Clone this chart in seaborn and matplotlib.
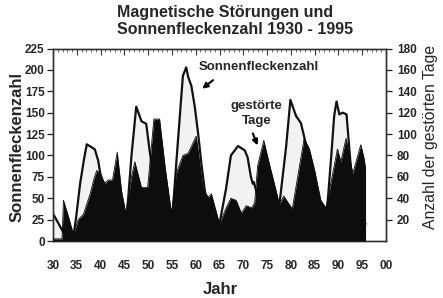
import matplotlib
matplotlib.use("Agg")
import matplotlib.pyplot as plt
import seaborn as sns
import pandas as pd
import numpy as np

# ---- data ----
sun_year = [1930.0, 1930.6, 1931.5, 1932.4, 1933.4, 1934.3, 1934.8, 1935.7, 1936.5, 1937.1,
            1938.0, 1938.8, 1939.5, 1939.9, 1940.8, 1941.8, 1942.8, 1943.8, 1944.6, 1945.6,
            1946.5, 1947.5, 1948.6, 1949.6, 1950.3, 1951.0, 1952.0, 1953.0, 1954.2, 1955.2,
            1955.9, 1957.3, 1958.0, 1958.4, 1959.1, 1959.8, 1960.5, 1961.2, 1962.0, 1963.0,
            1964.0, 1965.0, 1966.4, 1967.4, 1968.9, 1970.3, 1970.9, 1971.6, 1972.0, 1972.2,
            1972.7, 1973.5, 1974.5, 1975.5, 1976.5, 1977.6, 1979.0, 1979.9, 1981.1, 1982.1,
            1982.8, 1983.8, 1984.8, 1985.8, 1986.7, 1987.7, 1988.5, 1989.1, 1989.6, 1990.2,
            1990.9, 1991.7, 1992.6, 1993.5, 1994.5, 1995.7]
sun_value = [32, 26, 17, 8, 4, 6, 25, 67, 95, 113,
             110, 107, 94, 80, 62, 45, 28, 15, 10, 35,
             100, 157, 140, 137, 106, 80, 50, 25, 8, 35,
             90, 193, 203, 192, 181, 157, 126, 90, 55, 35,
             15, 20, 62, 100, 111, 106, 98, 75, 67, 69,
             59, 40, 30, 18, 12, 43, 110, 165, 146, 138,
             122, 95, 60, 25, 15, 43, 100, 146, 163, 148,
             150, 148, 87, 55, 30, 20]

tage_year = [1930.0, 1931.9, 1932.2, 1933.3, 1934.3, 1935.3, 1936.4, 1937.8, 1938.6, 1939.2,
             1939.9, 1940.9, 1941.6, 1942.5, 1943.5, 1944.4, 1945.3, 1946.5, 1947.2, 1948.6,
             1949.9, 1951.2, 1952.4, 1953.6, 1954.9, 1955.9, 1957.3, 1958.4, 1960.1, 1961.5,
             1962.6, 1963.3, 1965.0, 1966.4, 1967.4, 1968.5, 1969.6, 1970.6, 1971.8, 1972.4,
             1973.0, 1974.3, 1975.6, 1976.9, 1977.6, 1978.5, 1980.3, 1982.8, 1983.9, 1985.0,
             1986.3, 1987.4, 1989.8, 1990.5, 1991.6, 1993.0, 1994.7, 1995.4, 1995.7]
tage_value = [2, 2, 38, 22, 6, 20, 25, 44, 58, 66,
              63, 54, 57, 57, 83, 47, 26, 60, 74, 50,
              50, 114, 114, 68, 26, 63, 80, 82, 98, 50,
              41, 44, 16, 31, 40, 38, 26, 33, 31, 36,
              70, 94, 70, 47, 34, 42, 30, 96, 86, 66,
              38, 31, 86, 74, 96, 63, 90, 77, 68]

year_ticks = [1930, 1935, 1940, 1945, 1950, 1955, 1960, 1965, 1970, 1975, 1980, 1985, 1990, 1995, 2000]
year_labels = ["30", "35", "40", "45", "50", "55", "60", "65", "70", "75", "80", "85", "90", "95", "00"]
left_ticks = [0, 25, 50, 75, 100, 125, 150, 175, 200, 225]
right_ticks = [20, 40, 60, 80, 100, 120, 140, 160, 180]

sns.set_theme(style="white")
plt.rcParams["font.family"] = ["Liberation Sans", "DejaVu Sans"]

fig = plt.figure(figsize=(4.43, 2.98), dpi=100)
ax = fig.add_axes([53/443, 1-241/298, (386-53)/443, (241-48.5)/298])

sun = pd.DataFrame({"Jahr": sun_year, "Sonnenfleckenzahl": sun_value})
tage = pd.DataFrame({"Jahr": tage_year, "Tage": tage_value})

ax.fill_between(sun["Jahr"], 0, sun["Sonnenfleckenzahl"], color="#f2f2f2", lw=0, zorder=1)
sns.lineplot(data=sun, x="Jahr", y="Sonnenfleckenzahl", ax=ax, color="#111111", lw=1.6, zorder=2)
ax.set_xlim(1930, 2000)
ax.set_ylim(0, 225)
ax.set_yticks(left_ticks)
ax.set_yticklabels([str(t) for t in left_ticks], fontsize=8.5, fontweight="bold")
ax.set_xticks(year_ticks)
ax.set_xticklabels(year_labels, fontsize=8.5, fontweight="bold")
ax.set_xticks(np.arange(1930, 2001, 1), minor=True)
ax.tick_params(axis="x", which="both", bottom=False, top=True, direction="in", pad=14)
ax.tick_params(axis="x", which="major", length=4, width=0.8, color="#333333")
ax.tick_params(axis="x", which="minor", length=2.5, width=0.6, color="#555555")
ax.tick_params(axis="y", which="major", left=True, direction="out", length=4, width=0.9, pad=2, color="#222222")
ax.set_xlabel("")
ax.set_ylabel("")

ax2 = ax.twinx()
sns.lineplot(data=tage, x="Jahr", y="Tage", ax=ax2, color="#0d0d0d", lw=0.6, zorder=3)
ax2.fill_between(tage["Jahr"], 0, tage["Tage"], color="#0d0d0d", lw=0, zorder=3)
ax2.set_ylim(0, 180)
ax2.set_xlim(1930, 2000)
ax2.set_yticks(right_ticks)
ax2.set_yticklabels([str(t) for t in right_ticks], fontsize=8.5, fontweight="bold")
ax2.tick_params(axis="y", right=True, direction="out", length=4, width=0.9, pad=4, color="#222222")
ax2.set_ylabel("")
ax2.set_xlabel("")

for a in (ax, ax2):
    for s in a.spines.values():
        s.set_color("#333333")
        s.set_linewidth(1.0)

# titles and labels
fig.text(117/443, 1-13/298, "Magnetische Störungen und", fontsize=11.5, fontweight="bold",
         ha="left", va="center")
fig.text(117/443, 1-30/298, "Sonnenfleckenzahl 1930 - 1995", fontsize=11.5, fontweight="bold",
         ha="left", va="center")
fig.text(17/443, 1-147/298, "Sonnenfleckenzahl", fontsize=12, fontweight="bold",
         rotation=90, ha="center", va="center")
fig.text(430/443, 1-137/298, "Anzahl der gestörten Tage", fontsize=11.3,
         rotation=90, ha="center", va="center")
fig.text(220/443, 1-289/298, "Jahr", fontsize=12, fontweight="bold", ha="center", va="center")

# annotations
ax.annotate("", xy=(1960.9, 176), xytext=(1964.1, 190),
            arrowprops=dict(arrowstyle="-|>", color="black", lw=1.5, mutation_scale=8), zorder=5)
ax.text(1973.3, 203, "Sonnenfleckenzahl", fontsize=9.5, fontweight="bold", ha="center", va="center", zorder=5)
ax2.annotate("", xy=(1973.2, 87), xytext=(1971.8, 103),
             arrowprops=dict(arrowstyle="-|>", color="black", lw=1.5, mutation_scale=8), zorder=5)
ax2.text(1972.7, 126, "gestörte", fontsize=9.5, fontweight="bold", ha="center", va="center", zorder=5)
ax2.text(1972.9, 112, "Tage", fontsize=9.5, fontweight="bold", ha="center", va="center", zorder=5)

fig.savefig("out.png", dpi=100, facecolor="white")
